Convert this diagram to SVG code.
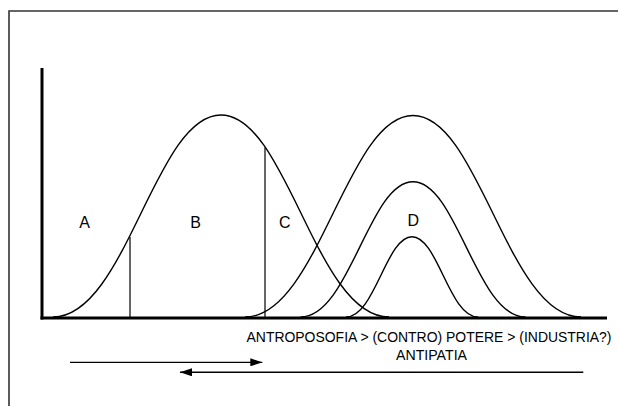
<svg xmlns="http://www.w3.org/2000/svg" width="618" height="406" viewBox="0 0 618 406">
  <defs>
    <style>
      .curve { fill: none; stroke: #000; stroke-width: 1.4; }
      .axis { fill: none; stroke: #000; stroke-width: 3; }
      .thin { fill: none; stroke: #000; stroke-width: 1.2; }
      .frame { fill: none; stroke: #333; stroke-width: 1.6; }
      .lbl { font-family: "Liberation Sans", Arial, sans-serif; fill: #000; }
      .big { font-size: 16px; text-anchor: middle; }
      .cap { font-size: 14px; }
    </style>
    <marker id="arr" viewBox="0 0 12 8" refX="12" refY="4" markerWidth="12" markerHeight="8" markerUnits="userSpaceOnUse" orient="auto">
      <path d="M0,0 L12,4 L0,8 Z" fill="#000"/>
    </marker>
  </defs>
  <rect width="618" height="406" fill="#fff"/>
  <path class="frame" d="M9,406 V11 H618"/>

  <g id="axes">
    <line class="axis" x1="42" y1="68" x2="42" y2="319.5"/>
    <line class="axis" x1="40.5" y1="318" x2="607" y2="318"/>
  </g>

  <g id="curve1">
    <path class="curve" d="M53,317 C126,317 155,115 221,115 C287,115 316,317 389,317"/>
    <line class="thin" x1="130" y1="237" x2="130" y2="317"/>
    <line class="thin" x1="265" y1="147.5" x2="265" y2="317"/>
  </g>
  <g id="curve2">
    <path class="curve" d="M245,317 C318,317 347,115.5 413,115.5 C479,115.5 508,317 581,317"/>
  </g>
  <g id="curve3">
    <path class="curve" d="M300.5,317 C349.5,317 369,181.7 413,181.7 C457,181.7 476.5,317 525.5,317"/>
  </g>
  <g id="curve4">
    <path class="curve" d="M346,317 C374.8,317 386.2,236.7 412,236.7 C437.8,236.7 449.2,317 478,317"/>
  </g>

  <g id="labelA"><text class="lbl big" x="84.5" y="228.3">A</text></g>
  <g id="labelB"><text class="lbl big" x="195.5" y="228.3">B</text></g>
  <g id="labelC"><text class="lbl big" x="284.7" y="228.3">C</text></g>
  <g id="labelD"><text class="lbl big" x="413.3" y="226">D</text></g>

  <g id="caption">
    <text class="lbl cap" x="246.5" y="341.5" textLength="365" lengthAdjust="spacingAndGlyphs">ANTROPOSOFIA &gt; (CONTRO) POTERE &gt; (INDUSTRIA?)</text>
    <text class="lbl cap" style="font-size:15px" x="396" y="360" textLength="71" lengthAdjust="spacingAndGlyphs">ANTIPATIA</text>
  </g>

  <g id="connectors">
    <line class="thin" x1="70" y1="362.3" x2="262.3" y2="362.3" marker-end="url(#arr)"/>
    <line class="thin" style="stroke-width:1.5" x1="583.3" y1="372.3" x2="180" y2="372.3" marker-end="url(#arr)"/>
  </g>
</svg>
